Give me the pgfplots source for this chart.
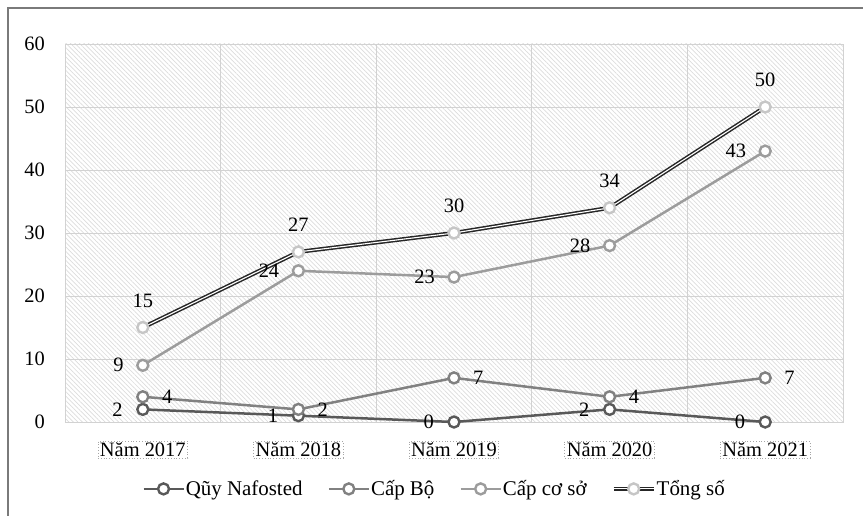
\documentclass[border=0pt]{standalone}
\usepackage{fontspec}
\setmainfont{Liberation Serif}
\usepackage{pgfplots}
\pgfplotsset{compat=1.18}
\usetikzlibrary{patterns.meta}

\definecolor{cNaf}{HTML}{595959}
\definecolor{cBo}{HTML}{818181}
\definecolor{cCs}{HTML}{9C9C9C}
\definecolor{cTong}{HTML}{262626}
\definecolor{cTongMark}{HTML}{C6C6C6}
\definecolor{gridc}{HTML}{D2D2D2}
\definecolor{hatch}{HTML}{DCDCDC}
\definecolor{framec}{HTML}{7A7A7A}

\newcommand{\txt}{\fontsize{20.5}{24}\selectfont}

\begin{document}
\begin{tikzpicture}
\useasboundingbox (0,0) rectangle (863bp,516bp);
\draw[framec, line width=1.3bp] (8bp,0) -- (8bp,508bp) -- (863bp,508bp);
\begin{axis}[
  at={(65bp,94bp)}, anchor=south west,
  scale only axis, width=778bp, height=378bp,
  xmin=-0.5, xmax=4.5, ymin=0, ymax=60,
  xtick={0,...,4},
  xticklabels={Năm 2017,Năm 2018,Năm 2019,Năm 2020,Năm 2021},
  minor xtick={0.5,1.5,2.5,3.5},
  ytick={0,10,...,60},
  xminorgrids, ymajorgrids,
  grid style={gridc, line width=0.9bp},
  minor grid style={gridc, line width=0.9bp},
  axis line style={gridc, line width=0.9bp},
  major tick length=0pt, minor tick length=0pt,
  tick style={draw=none},
  axis background/.style={pattern={Lines[angle=-45,distance=3.2bp,line width=0.7bp]}, pattern color=hatch},
  /pgf/number format/assume math mode=true,
  ticklabel style={font=\txt, text=black},
  yticklabel style={inner sep=0pt, xshift=-20bp},
  xticklabel style={draw=gray!70, dash pattern=on 0.8bp off 2bp, line width=0.8bp,
    inner xsep=2bp, inner ysep=1.3bp, yshift=-19bp, text depth=0pt},
  clip=false,
  legend columns=4,
  legend style={at={(0.4743,-0.177)}, anchor=center, draw=none, fill=none,
    font=\fontsize{21}{24}\selectfont, inner sep=0pt,
    nodes={inner sep=1bp},
    /tikz/every even column/.append style={column sep=24bp}},
  legend image code/.code={\draw[mark repeat=2,mark phase=2,#1] plot coordinates {(0bp,0bp) (20bp,0bp) (40bp,0bp)};},
  every node near coord/.append style={font=\txt, text=black, inner sep=0pt},
]
% Quy Nafosted
\addplot[cNaf, line width=2.5bp, mark=*, mark size=5.5bp,
  mark options={fill=white, draw=cNaf, line width=2.4bp},
  nodes near coords, nodes near coords style={anchor=east, xshift=-19bp}]
  coordinates {(0,2) (1,1) (2,0) (3,2) (4,0)};
\addlegendentry{Qũy Nafosted}
% Cap Bo
\addplot[cBo, line width=2.5bp, mark=*, mark size=5.5bp,
  mark options={fill=white, draw=cBo, line width=2.4bp},
  nodes near coords, nodes near coords style={anchor=west, xshift=18bp}]
  coordinates {(0,4) (1,2) (2,7) (3,4) (4,7)};
\addlegendentry{Cấp Bộ}
% Cap co so
\addplot[cCs, line width=2.5bp, mark=*, mark size=5.5bp,
  mark options={fill=white, draw=cCs, line width=2.4bp},
  nodes near coords, nodes near coords style={anchor=east, xshift=-18bp}]
  coordinates {(0,9) (1,24) (2,23) (3,28) (4,43)};
\addlegendentry{Cấp cơ sở}
% Tong so
\addplot[cTong, line width=1.5bp, double=white, double distance=1.1bp,
  mark=*, mark size=5.5bp,
  mark options={fill=white, draw=cTongMark, line width=2.4bp},
  nodes near coords, nodes near coords style={anchor=south, yshift=19bp}]
  coordinates {(0,15) (1,27) (2,30) (3,34) (4,50)};
\addlegendentry{Tổng số}
\end{axis}
\end{tikzpicture}
\end{document}
